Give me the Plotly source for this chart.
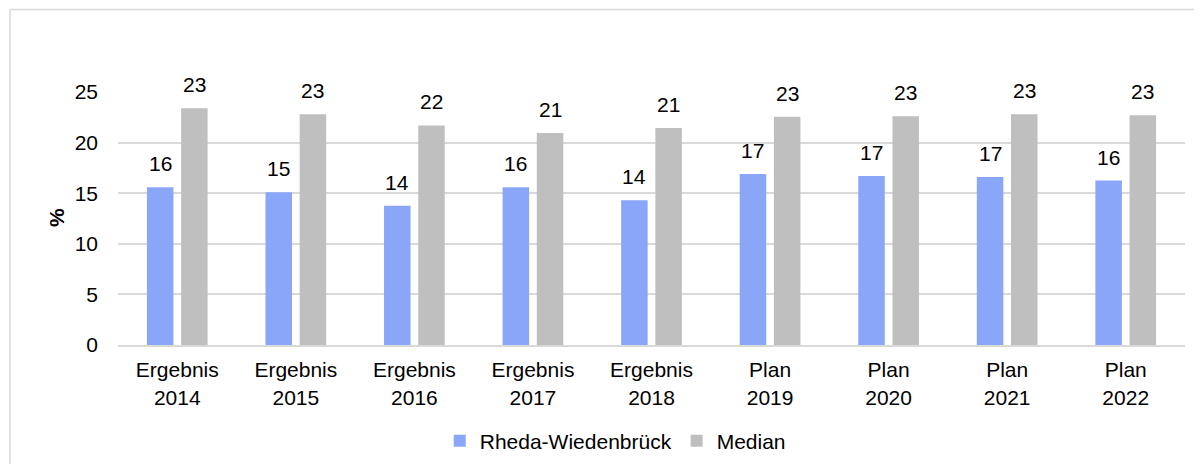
import plotly.graph_objects as go

categories = ["Ergebnis<br>2014", "Ergebnis<br>2015", "Ergebnis<br>2016", "Ergebnis<br>2017",
              "Ergebnis<br>2018", "Plan<br>2019", "Plan<br>2020", "Plan<br>2021", "Plan<br>2022"]
rheda = [15.6, 15.1, 13.75, 15.6, 14.3, 16.9, 16.7, 16.6, 16.25]
median = [23.4, 22.8, 21.7, 20.96, 21.45, 22.55, 22.6, 22.8, 22.7]
series_names = ["Rheda-Wiedenbrück", "Median"]
series_colors = ["#8AA6F9", "#BFBFBF"]
y_ticks = [0, 5, 10, 15, 20, 25]

FONT = "Liberation Sans, Arial, sans-serif"
FS = 21
# page body has an 8px margin; figure sized to fit inside the 1202x472 window
W, H = 1186, 456
L, R, T, B = 110, 9, 84, 119
pw, ph = W - L - R, H - T - B
BARGAP = 0.423

fig = go.Figure()
series = [rheda, median]
for name, vals, col in zip(series_names, series, series_colors):
    fig.add_trace(go.Bar(
        x=list(range(len(categories))), y=vals, name=name,
        marker=dict(color=col, line=dict(width=0)), hoverinfo="y+name",
    ))


def half_up(v):
    return int(v + 0.5)


# data labels above bars (positions derived from the group layout)
n = len(series)
slot = (1 - BARGAP) / n
annotations = []
for k, vals in enumerate(series):
    dx = -(1 - BARGAP) / 2 + slot * (k + 0.5)
    for i, v in enumerate(vals):
        annotations.append(dict(x=i + dx, y=v, xref="x", yref="y", text=str(half_up(v)),
                                showarrow=False, yanchor="bottom", yshift=10,
                                font=dict(family=FONT, size=FS, color="#000000")))

annotations.append(dict(text="<b>%</b>", xref="paper", yref="paper",
                        x=(48 - L) / pw, y=(T + ph - 210) / ph, textangle=-90,
                        showarrow=False, font=dict(family=FONT, size=FS, color="#000000"),
                        xanchor="center", yanchor="middle"))

border = dict(color="#D9D9D9", width=1.5)
fig.update_layout(
    width=W, height=H, margin=dict(l=L, r=R, t=T, b=B),
    paper_bgcolor="white", plot_bgcolor="white",
    barmode="group", bargap=BARGAP, bargroupgap=0.225,
    font=dict(family=FONT, size=FS, color="#000000"),
    showlegend=True,
    legend=dict(orientation="h", xref="container", x=0.512, xanchor="center",
                yref="container", y=0.05, yanchor="middle",
                font=dict(family=FONT, size=FS, color="#000000"), itemwidth=30,
                traceorder="normal"),
    xaxis=dict(showgrid=False, showline=True, linecolor="#D9D9D9", linewidth=2,
               ticks="", tickmode="array", tickvals=list(range(len(categories))),
               ticktext=categories, range=[-0.5, len(categories) - 0.5],
               tickfont=dict(size=FS), ticklabelstandoff=5),
    yaxis=dict(range=[0, 25], tickvals=y_ticks, showgrid=True, gridcolor="#D9D9D9",
               gridwidth=1.5, zeroline=False, ticks="", ticklabelstandoff=19,
               tickfont=dict(size=FS)),
    shapes=[
        dict(type="line", xref="paper", yref="paper",
             x0=(2 - L) / pw, x1=(W + 20 - L) / pw,
             y0=(T + ph - 1.5) / ph, y1=(T + ph - 1.5) / ph, line=border, layer="below"),
        dict(type="line", xref="paper", yref="paper",
             x0=(2 - L) / pw, x1=(2 - L) / pw,
             y0=(T + ph - 1.5) / ph, y1=(T + ph - (H + 20)) / ph, line=border, layer="below"),
    ],
    annotations=annotations,
)

fig.write_html("out.html")
